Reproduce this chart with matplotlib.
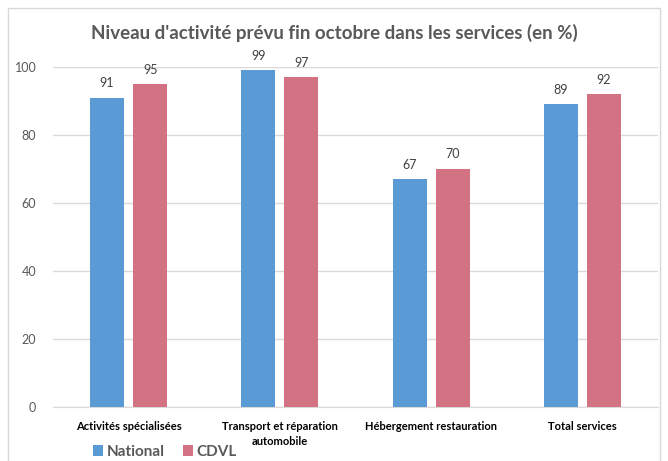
import matplotlib
matplotlib.use("Agg")
import matplotlib.pyplot as plt
import numpy as np
from matplotlib.patches import Rectangle

categories = ["Activités spécialisées", "Transport et réparation\nautomobile",
              "Hébergement restauration", "Total services"]
national = [91, 99, 67, 89]
cdvl = [95, 97, 70, 92]
series_names = ["National", "CDVL"]
title = "Niveau d'activité prévu fin octobre dans les services (en %)"

plt.rcParams['font.family'] = ['Lato', 'DejaVu Sans']

fig = plt.figure(figsize=(6.68, 4.61), dpi=100)
fig.patches.append(Rectangle((8/668, -0.05), (660-8)/668, 1 - 8/461 + 0.05,
                             transform=fig.transFigure, fill=False,
                             edgecolor="#d9d9d9", linewidth=1.0))
ax = fig.add_axes([53/668, 1 - 407/461, (658-53)/668, (407-67)/461])

x = np.arange(len(categories))
w = 0.225
gap = 0.06
blue = "#5b9bd5"
red = "#d37282"
b1 = ax.bar(x - (w + gap)/2, national, w, color=blue, label=series_names[0], zorder=3)
b2 = ax.bar(x + (w + gap)/2, cdvl, w, color=red, label=series_names[1], zorder=3)

for bars, vals in ((b1, national), (b2, cdvl)):
    for r, v in zip(bars, vals):
        ax.text(r.get_x() + r.get_width()/2, v + 2.5, str(v), ha='center', va='bottom',
                fontsize=9, color="#404040")

ax.set_ylim(0, 100)
ax.set_xlim(-0.5, 3.5)
ax.set_yticks(range(0, 101, 20))
ax.tick_params(axis='y', length=0, labelsize=9, labelcolor="#595959", pad=12)
ax.tick_params(axis='x', length=0, pad=10)
ax.set_xticks(x)
ax.set_xticklabels(categories, fontsize=8, fontweight='bold', color="#000000",
                   linespacing=1.5)
ax.grid(axis='y', color="#d9d9d9", linewidth=1, zorder=0)
for s in ["top", "right", "left"]:
    ax.spines[s].set_visible(False)
ax.spines["bottom"].set_color("#d9d9d9")

fig.text(0.5, 1 - 33/461, title, ha='center', va='center', fontsize=13.5,
         fontweight='bold', color="#595959")

leg = fig.legend(loc='center left', bbox_to_anchor=(82/668, 1 - 452/461), ncol=2,
                 frameon=False, fontsize=11, handlelength=0.7, handleheight=0.7,
                 columnspacing=1.2, handletextpad=0.2, borderpad=0.2)
for t in leg.get_texts():
    t.set_color("#595959")
    t.set_fontweight('bold')

fig.savefig("out.png", dpi=100)
